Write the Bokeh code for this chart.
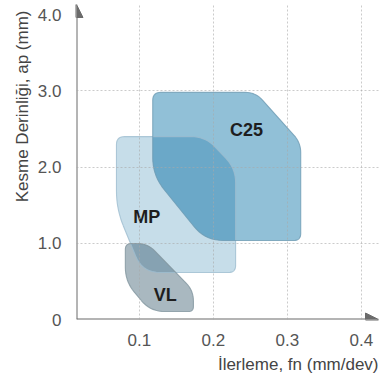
import numpy as np
from bokeh.plotting import figure
from bokeh.models import Range1d, FixedTicker, Arrow, NormalHead, Title
from bokeh.core.properties import value
from bokeh.embed import file_html
from bokeh.resources import INLINE

# ---------------- data ----------------
x_ticks = [0.1, 0.2, 0.3, 0.4]
x_tick_labels = ["0.1", "0.2", "0.3", "0.4"]
y_ticks = [0, 1, 2, 3, 4]
y_tick_labels = ["0", "1.0", "2.0", "3.0", "4.0"]
grid_y = [1, 2, 3]

x_title = "İlerleme, fn (mm/dev)"
y_title = "Kesme Derinliği, ap (mm)"

# region outlines: corner vertices (fn, ap), clockwise from top-left
mp_fn = [0.069, 0.189, 0.230, 0.230, 0.104, 0.069]
mp_ap = [2.40, 2.40, 1.98, 0.617, 0.617, 1.45]
c25_fn = [0.118, 0.257, 0.318, 0.318, 0.189, 0.118]
c25_ap = [2.98, 2.98, 2.32, 1.037, 1.037, 1.89]
vl_fn = [0.081, 0.111, 0.173, 0.173, 0.115, 0.081]
vl_ap = [0.997, 0.997, 0.38, 0.105, 0.105, 0.50]

region_names = ["MP", "C25", "VL"]
label_fn = [0.110, 0.2446, 0.135]
label_ap = [1.35, 2.49, 0.315]

# ---------------- styling ----------------
W, H = 380, 381
B_LEFT, B_RIGHT, B_TOP, B_BOTTOM = 76, 2, 4, 62
X0, X1 = 0.015, 0.4231
frame_w = W - B_LEFT - B_RIGHT
frame_h = H - B_TOP - B_BOTTOM
Y0, Y1 = 0.0, frame_h / 76.2
sx = frame_w / (X1 - X0)
sy = frame_h / (Y1 - Y0)

radii = {
    "MP": [8, 14, 14, 7, 18, 18],
    "C25": [8, 10, 10, 7, 18, 18],
    "VL": [6, 10, 14, 5, 14, 14],
}
fills = {"MP": "#c6dde9", "C25": "#91c0d7", "VL": "#a9b8c0"}
edges = {"MP": "#9dbdcf", "C25": "#6f9cb4", "VL": "#82969f"}
overlap_fill = {("MP", "C25"): "#6ba8c8", ("MP", "VL"): "#86a2b2"}
AX = "#6b6b6b"
FONT = "Liberation Sans"


def rounded(xs, ys, rs, n=10):
    P = np.column_stack([(np.array(xs) - X0) * sx, (np.array(ys) - Y0) * sy])
    out = []
    k = len(P)
    for i in range(k):
        a, p, b = P[i - 1], P[i], P[(i + 1) % k]
        da, db = a - p, b - p
        la, lb = np.hypot(*da), np.hypot(*db)
        r = min(rs[i], la / 2, lb / 2)
        p1 = p + da / la * r
        p2 = p + db / lb * r
        for t in np.linspace(0, 1, n):
            q = (1 - t) ** 2 * p1 + 2 * (1 - t) * t * p + t ** 2 * p2
            out.append(q)
    out = np.array(out)
    return list(out[:, 0] / sx + X0), list(out[:, 1] / sy + Y0)


def clip(subj, clipper):
    # Sutherland-Hodgman, clipper convex
    cx, cy = clipper
    area = sum(cx[i - 1] * cy[i] - cx[i] * cy[i - 1] for i in range(len(cx)))
    sgn = 1 if area > 0 else -1

    def inside(p, a, b):
        return sgn * ((b[0] - a[0]) * (p[1] - a[1]) - (b[1] - a[1]) * (p[0] - a[0])) >= 0

    def inter(p, q, a, b):
        x1, y1, x2, y2 = p[0], p[1], q[0], q[1]
        x3, y3, x4, y4 = a[0], a[1], b[0], b[1]
        d = (x1 - x2) * (y3 - y4) - (y1 - y2) * (x3 - x4)
        t = ((x1 - x3) * (y3 - y4) - (y1 - y3) * (x3 - x4)) / d
        return (x1 + t * (x2 - x1), y1 + t * (y2 - y1))

    pts = list(zip(*subj))
    C = list(zip(cx, cy))
    for i in range(len(C)):
        a, b = C[i - 1], C[i]
        inp = pts
        pts = []
        if not inp:
            break
        s = inp[-1]
        for e in inp:
            if inside(e, a, b):
                if not inside(s, a, b):
                    pts.append(inter(s, e, a, b))
                pts.append(e)
            elif inside(s, a, b):
                pts.append(inter(s, e, a, b))
            s = e
    if not pts:
        return [], []
    return [p[0] for p in pts], [p[1] for p in pts]


shapes = {
    "MP": rounded(mp_fn, mp_ap, radii["MP"]),
    "C25": rounded(c25_fn, c25_ap, radii["C25"]),
    "VL": rounded(vl_fn, vl_ap, radii["VL"]),
}

p = figure(width=W, height=H, output_backend="svg", toolbar_location=None,
           x_range=Range1d(X0, X1), y_range=Range1d(Y0, Y1),
           min_border_left=B_LEFT, min_border_right=B_RIGHT,
           min_border_top=B_TOP, min_border_bottom=B_BOTTOM)
p.outline_line_color = None
p.background_fill_color = "white"

# fills
for name in region_names:
    xs, ys = shapes[name]
    p.patch(xs, ys, fill_color=fills[name], fill_alpha=1.0, line_color=None)
for (a, b), col in overlap_fill.items():
    xs, ys = clip(shapes[a], shapes[b])
    if xs:
        p.patch(xs, ys, fill_color=col, fill_alpha=1.0, line_color=None)
# edges
for name in region_names:
    xs, ys = shapes[name]
    p.patch(xs + [xs[0]], ys + [ys[0]], fill_color=None, line_color=edges[name],
            line_width=1.1, line_alpha=0.8)

p.text(x=label_fn, y=label_ap, text=region_names, text_font=value(FONT),
       text_font_style="bold", text_font_size="18px", text_color="#1e1e1e",
       text_align="center", text_baseline="middle")

# grid
p.xgrid.ticker = FixedTicker(ticks=x_ticks)
p.ygrid.ticker = FixedTicker(ticks=grid_y)
for g in (p.xgrid, p.ygrid):
    g.grid_line_color = "#a8a8a8"
    g.grid_line_alpha = 0.6
    g.grid_line_dash = "2 2"
    g.grid_line_width = 1
    g.level = "overlay"

# axes
p.xaxis.ticker = FixedTicker(ticks=x_ticks)
p.xaxis.major_label_overrides = {t: s for t, s in zip(x_ticks, x_tick_labels)}
p.yaxis.ticker = FixedTicker(ticks=y_ticks)
p.yaxis.major_label_overrides = {t: s for t, s in zip(y_ticks, y_tick_labels)}
for ax in (p.xaxis, p.yaxis):
    ax.axis_line_color = None
    ax.major_tick_line_color = None
    ax.minor_tick_line_color = None
    ax.major_label_text_font = FONT
    ax.major_label_text_font_size = "17px"
    ax.major_label_text_color = "#555555"
p.yaxis.major_label_standoff = 9
p.xaxis.major_label_standoff = 8

tstyle = dict(text_font=FONT, text_font_size="17px", text_font_style="normal",
              text_color="#444444", align="right")
p.add_layout(Title(text=x_title, standoff=9, **tstyle), "below")
p.add_layout(Title(text=y_title, standoff=6, offset=6, **tstyle), "left")

head = dict(size=13, fill_color=AX, line_color=AX)
p.add_layout(Arrow(end=NormalHead(**head), x_start=X0, y_start=Y0, x_end=X0, y_end=Y1,
                   line_color=AX, line_width=2))
p.add_layout(Arrow(end=NormalHead(**head), x_start=X0, y_start=Y0, x_end=X1, y_end=Y0,
                   line_color=AX, line_width=2))

open("out.html", "w").write(file_html(p, INLINE))
